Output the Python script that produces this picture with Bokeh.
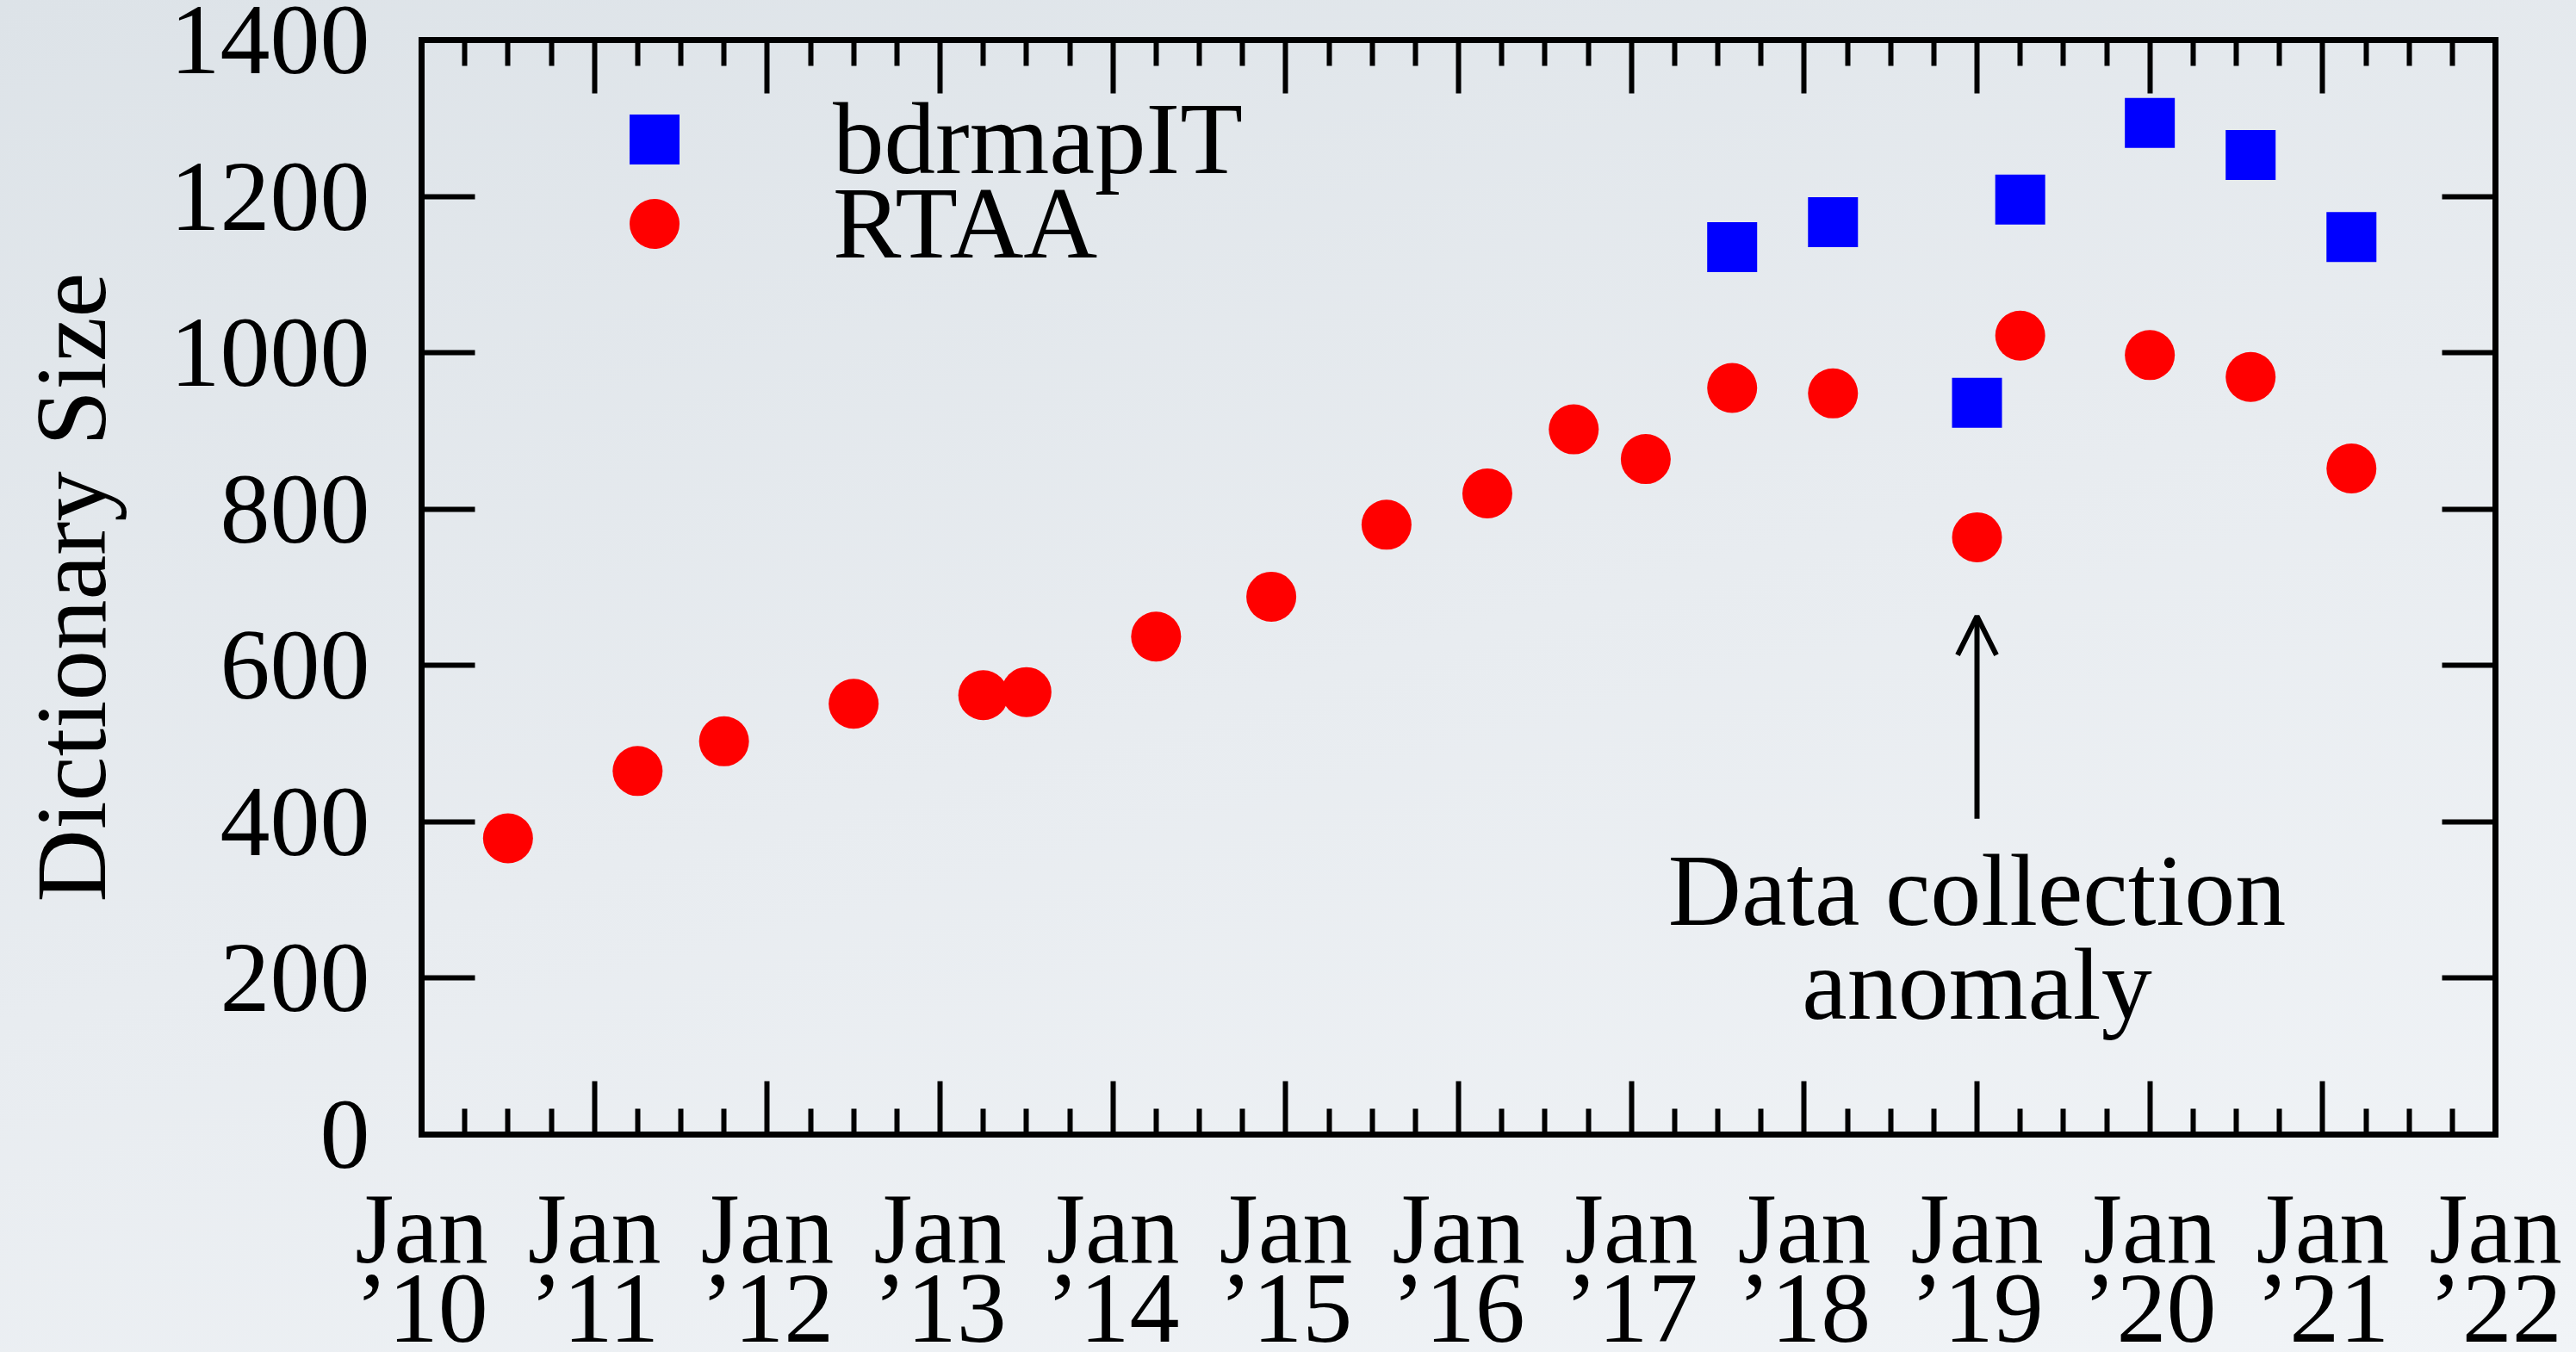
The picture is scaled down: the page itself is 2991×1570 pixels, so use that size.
from bokeh.plotting import figure
from bokeh.models import (FixedTicker, LinearAxis, Legend, LegendItem, Arrow,
                          OpenHead, ColumnDataSource, Range1d, Label)
from bokeh.embed import file_html
from bokeh.resources import INLINE

# ---------------- data ----------------
rtaa_dates = ["2010-07", "2011-04", "2011-10", "2012-07", "2013-04", "2013-07",
              "2014-04", "2014-12", "2015-08", "2016-03", "2016-09", "2017-02",
              "2017-08", "2018-03", "2019-01", "2019-04", "2020-01", "2020-08",
              "2021-03"]
rtaa_sizes = [379, 465, 503, 551, 562, 566, 637, 688, 780, 820, 902, 864,
              955, 948, 764, 1022, 997, 969, 852]

bdrmapit_dates = ["2017-08", "2018-03", "2019-01", "2019-04", "2020-01",
                  "2020-08", "2021-03"]
bdrmapit_sizes = [1135, 1167, 936, 1196, 1294, 1253, 1148]

year_ticks = list(range(2010, 2023))
year_labels = ["Jan\n\u2019%02d" % (y % 100) for y in year_ticks]
size_ticks = [0, 200, 400, 600, 800, 1000, 1200, 1400]

anomaly_date = "2019-01"
anomaly_text = ["Data collection", "anomaly"]


def to_year(d):
    y, m = d.split("-")
    return int(y) + (int(m) - 1) / 12.0


rtaa_src = ColumnDataSource(dict(x=[to_year(d) for d in rtaa_dates], y=rtaa_sizes))
bdr_src = ColumnDataSource(dict(x=[to_year(d) for d in bdrmapit_dates], y=bdrmapit_sizes))

FONT = "Liberation Serif"
FRAME_W = 2408
FRAME_H = 1271

p = figure(frame_width=FRAME_W, frame_height=FRAME_H,
           x_range=Range1d(2010, 2022), y_range=Range1d(0, 1400),
           output_backend="svg", toolbar_location=None,
           min_border_left=489, min_border_right=94,
           min_border_top=46, min_border_bottom=253)
p.grid.visible = False
p.outline_line_color = None
p.background_fill_alpha = 0
p.border_fill_alpha = 0
p.styles = {"background": "linear-gradient(165deg, #dde3e8 0%, #e8ecf0 50%, #f1f4f7 100%)"}

minor_q = [y + q / 4.0 for y in range(2010, 2022) for q in range(1, 4)]
xticker = FixedTicker(ticks=year_ticks, minor_ticks=minor_q)
yticker = FixedTicker(ticks=size_ticks, minor_ticks=[])


def style_axis(ax):
    ax.axis_line_width = 7
    ax.axis_line_color = "black"
    ax.axis_line_cap = "square"
    ax.major_tick_in = 62
    ax.major_tick_out = 0
    ax.major_tick_line_width = 6
    ax.major_tick_line_color = "black"
    ax.minor_tick_in = 30
    ax.minor_tick_out = 0
    ax.minor_tick_line_width = 6
    ax.minor_tick_line_color = "black"
    ax.major_label_text_font = FONT
    ax.major_label_text_color = "black"
    ax.major_label_text_font_size = "116px"


xa = p.xaxis[0]
xa.ticker = xticker
style_axis(xa)
xa.major_label_overrides = {t: l for t, l in zip(year_ticks, year_labels)}
xa.major_label_text_line_height = 0.72
xa.major_label_standoff = 45

ya = p.yaxis[0]
ya.ticker = yticker
style_axis(ya)
ya.minor_tick_line_color = None
ya.major_label_standoff = 60
ya.axis_label = "Dictionary Size"
ya.axis_label_text_font = FONT
ya.axis_label_text_font_size = "117px"
ya.axis_label_text_font_style = "normal"
ya.axis_label_text_color = "black"
ya.axis_label_standoff = 48

top = LinearAxis(ticker=xticker)
style_axis(top)
top.major_label_overrides = {t: "" for t in year_ticks}
top.major_label_standoff = 0
p.add_layout(top, "above")

right = LinearAxis(ticker=yticker)
style_axis(right)
right.minor_tick_line_color = None
right.major_label_overrides = {t: "" for t in size_ticks}
right.major_label_standoff = 0
p.add_layout(right, "right")

r_bdr = p.scatter("x", "y", source=bdr_src, marker="square", size=58,
                  fill_color="#0000ff", line_color=None)
r_rtaa = p.scatter("x", "y", source=rtaa_src, marker="circle", size=58,
                   fill_color="#ff0000", line_color=None)

GLYPH = 145
LABEL_H = 171
for lab, rend, center_off in [("bdrmapIT", r_bdr, 115), ("RTAA", r_rtaa, 214)]:
    lg = Legend(items=[LegendItem(label=lab, renderers=[rend])],
                location=(198, int(round(FRAME_H - center_off - LABEL_H / 2))),
                glyph_width=GLYPH, glyph_height=GLYPH, label_height=LABEL_H,
                label_standoff=135, padding=0, margin=0,
                border_line_color=None, background_fill_alpha=0,
                label_text_font=FONT, label_text_font_size="119px",
                label_text_color="black")
    p.add_layout(lg)

ax_x = to_year(anomaly_date)
p.add_layout(Arrow(end=OpenHead(size=45, line_width=6, line_color="black"),
                   x_start=ax_x, y_start=404, x_end=ax_x, y_end=663,
                   line_width=6, line_color="black"))
for txt, yy in zip(anomaly_text, [312, 192]):
    p.add_layout(Label(x=ax_x, y=yy, text=txt, text_align="center",
                       text_baseline="middle", text_font=FONT,
                       text_font_size="118px", text_color="black"))

open("out.html", "w").write(file_html(p, INLINE))
